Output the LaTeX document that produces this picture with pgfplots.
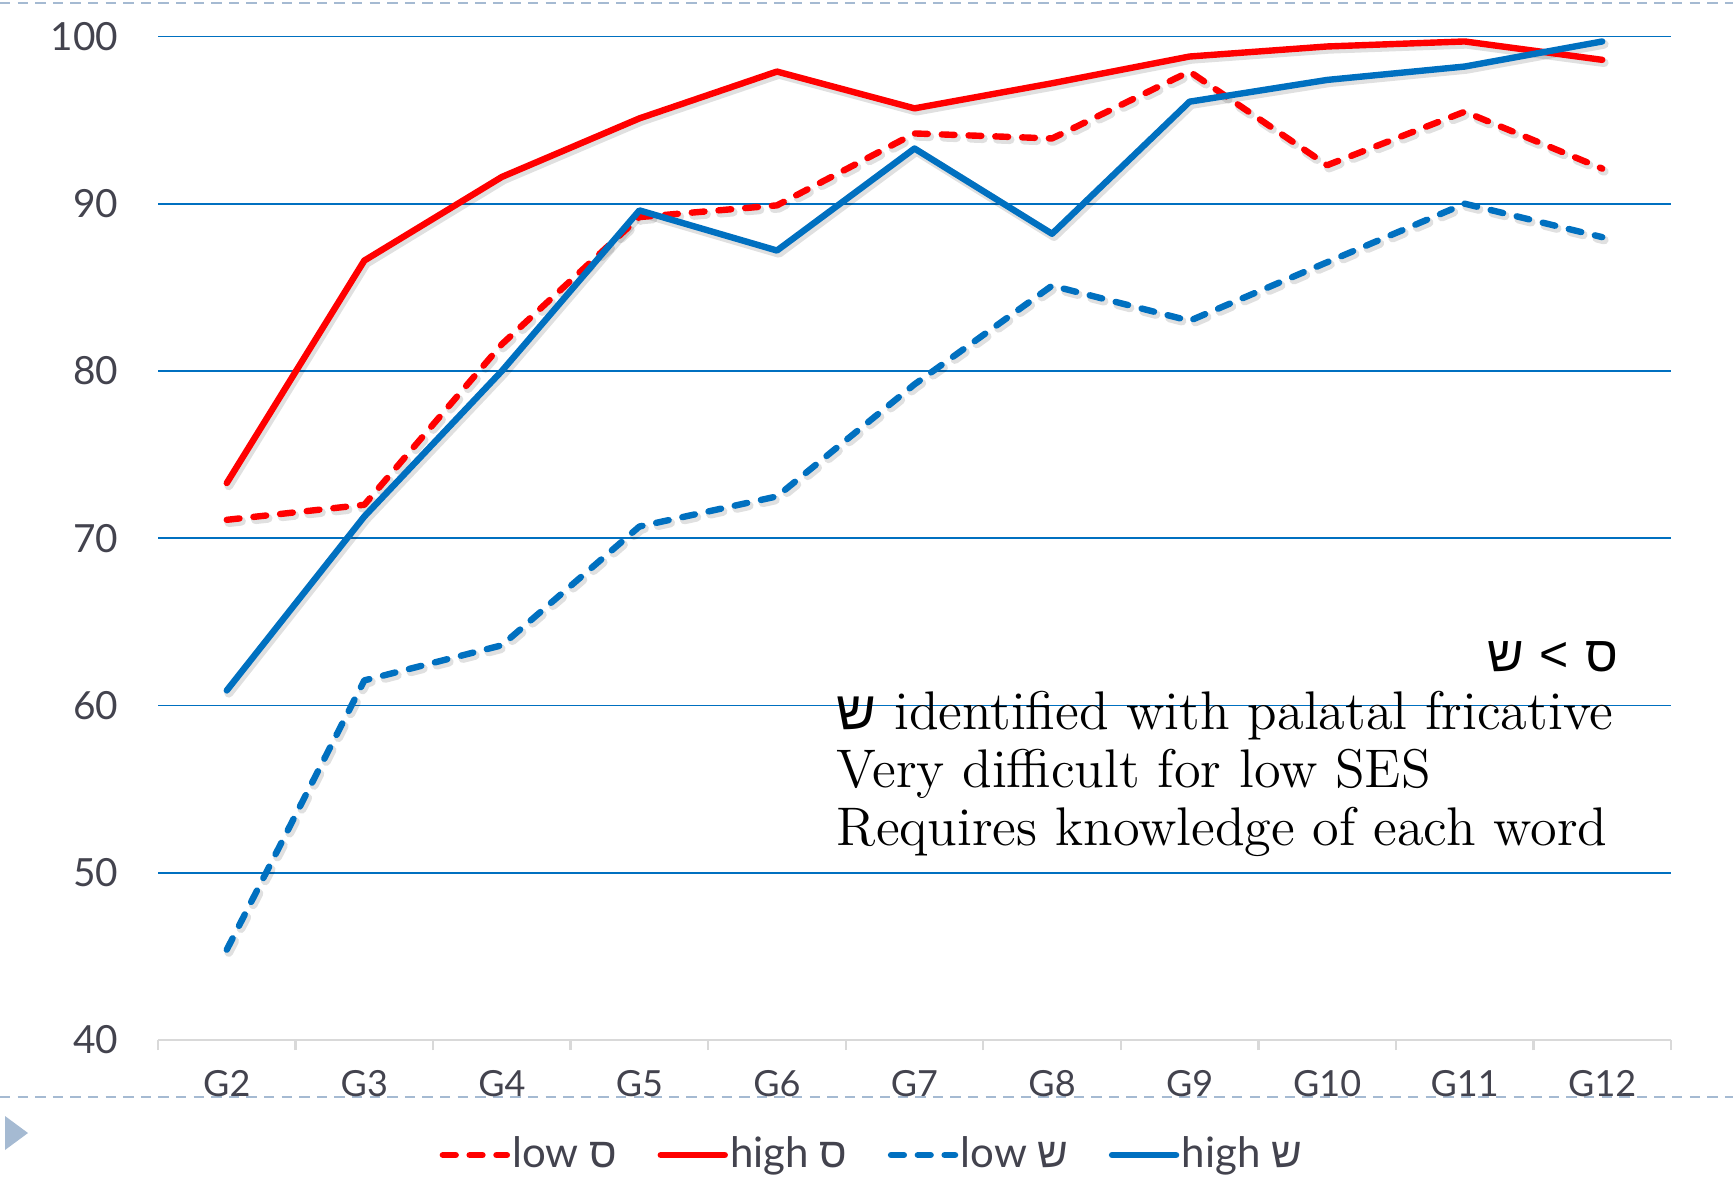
\documentclass[border=0pt]{standalone}
\usepackage{fontspec}
\setsansfont{Lato}
\newfontfamily\hebfont[Script=Hebrew]{Liberation Sans}
\newfontfamily\symfont{Liberation Sans}
\usepackage{pgfplots}
\pgfplotsset{compat=1.18}
\TeXXeTstate=1

\definecolor{serred}{HTML}{FF0000}
\definecolor{serblue}{HTML}{0070C0}
\definecolor{labgray}{HTML}{43434E}
\definecolor{slide}{HTML}{A5BAD2}
\definecolor{axgray}{HTML}{D9D9D9}

\newcommand{\samekh}{{\hebfont\beginR ס\endR}}
\newcommand{\shin}{{\hebfont\beginR ש\endR}}

% grade-by-grade accuracy (%), grades G2..G12 at x = 0..10
\pgfplotstableread{
x  lowS  highS  lowSh  highSh
0  71.1  73.3   45.4   60.9
1  72.0  86.6   61.5   71.3
2  81.6  91.6   63.6   80.0
3  89.2  95.1   70.7   89.6
4  89.9  97.9   72.5   87.2
5  94.2  95.7   79.2   93.3
6  93.9  97.2   85.1   88.2
7  97.9  98.8   83.0   96.1
8  92.3  99.4   86.5   97.4
9  95.5  99.7   90.0   98.2
10 92.1  98.6   88.0   99.7
}\scores

\begin{document}
\begin{tikzpicture}
\useasboundingbox (0,0) rectangle (433.25pt,295.5pt);
% slide decorations
\draw[slide, line width=0.5pt, dash pattern=on 2.6pt off 1.8pt] (0,294.75pt) -- (433.25pt,294.75pt);
\draw[slide, line width=0.5pt, dash pattern=on 2.6pt off 1.8pt] (0,21.25pt) -- (433.25pt,21.25pt);
\fill[slide] (1.25pt,8pt) -- (7pt,12.25pt) -- (1.25pt,16.5pt) -- cycle;

\begin{axis}[
  at={(39.5pt,35.5pt)}, anchor=south west, scale only axis,
  width=378.25pt, height=250.9pt,
  xmin=-0.5, xmax=10.5, ymin=40, ymax=100,
  xtick={0,...,10},
  xticklabels={G2,G3,G4,G5,G6,G7,G8,G9,G10,G11,G12},
  minor xtick={-0.5,0.5,...,10.5},
  ytick={40,50,...,100},
  /pgf/number format/assume math mode=true,
  ymajorgrids, grid style={serblue, line width=0.45pt},
  axis x line*=bottom, axis y line*=left,
  x axis line style={axgray, line width=0.6pt},
  y axis line style={draw=none},
  major tick style={draw=none},
  major tick length=0pt,
  minor x tick style={axgray, line width=0.6pt},
  tick align=outside, minor tick length=2.5pt,
  yticklabel style={font=\sffamily\fontsize{9.7}{12}\selectfont, text=labgray, inner sep=0pt, anchor=east, xshift=-9.75pt},
  xticklabel style={font=\sffamily\fontsize{9}{11}\selectfont, text=labgray, inner sep=0pt, anchor=north, yshift=-7.5pt},
  legend style={at={(0.1777,-0.1146)}, anchor=west, draw=none, fill=none,
    legend columns=4, font=\sffamily\fontsize{10.5}{13}\selectfont, text=labgray,
    /tikz/every even column/.append style={column sep=9.5pt},
    nodes={inner sep=0.6pt}},
  legend image code/.code={\draw[#1] (0.8pt,0pt) -- (16.8pt,0pt);},
  every axis plot/.append style={line width=1.6pt, line cap=round, line join=round},
  shadow/.style={black, opacity=0.12, line width=2.2pt, shift={(0.5pt,-0.7pt)}, forget plot},
  dashline/.style={dash pattern=on 3.2pt off 3.5pt},
]
% soft shadows under the series
\addplot[shadow, dashline] table[x=x, y=lowS] {\scores};
\addplot[shadow] table[x=x, y=highS] {\scores};
\addplot[shadow, dashline] table[x=x, y=lowSh] {\scores};
\addplot[shadow] table[x=x, y=highSh] {\scores};

\addplot[serred, dashline] table[x=x, y=lowS] {\scores};
\addlegendentry{low \samekh}
\addplot[serred] table[x=x, y=highS] {\scores};
\addlegendentry{high \samekh}
\addplot[serblue, dashline] table[x=x, y=lowSh] {\scores};
\addlegendentry{low \shin}
\addplot[serblue] table[x=x, y=highSh] {\scores};
\addlegendentry{high \shin}
\end{axis}

% annotation
\node[anchor=base east, inner sep=0pt, font=\fontsize{12.5}{14}\selectfont] at (404.75pt,127.75pt)
  {\shin{} {\symfont <} \samekh};
\node[anchor=base west, inner sep=0pt, font=\fontsize{13.6}{14.5}\selectfont] at (209pt,113.25pt)
  {\shin{} identified with palatal fricative};
\node[anchor=base west, inner sep=0pt, font=\fontsize{13.6}{14.5}\selectfont] at (209pt,98.75pt)
  {Very difficult for low SES};
\node[anchor=base west, inner sep=0pt, font=\fontsize{13.6}{14.5}\selectfont] at (209pt,84.25pt)
  {Requires knowledge of each word};
\end{tikzpicture}
\end{document}
